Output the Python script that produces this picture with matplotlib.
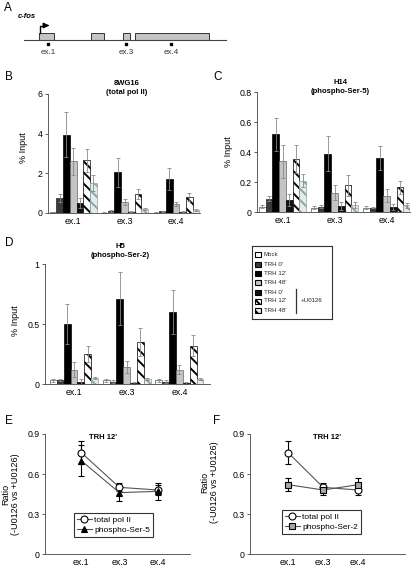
import numpy as np
import matplotlib
matplotlib.use('Agg')
import matplotlib.pyplot as plt
from matplotlib.patches import Rectangle
from matplotlib.lines import Line2D

plt.rcParams['font.family'] = ['Liberation Sans', 'DejaVu Sans']
plt.rcParams['hatch.linewidth'] = 1.4

W, H = 416, 567

exons = ['ex.1', 'ex.3', 'ex.4']
conditions = ['Mock', "TRH 0'", "TRH 12'", "TRH 48'", "TRH 0'", "TRH 12'", "TRH 48'"]

# rows = conditions, columns = exons
pol2_mean = [[0.03, 0.02, 0.02], [0.75, 0.10, 0.08], [3.95, 2.05, 1.70], [2.62, 0.55, 0.45],
             [0.50, 0.07, 0.06], [2.67, 0.95, 0.80], [1.50, 0.20, 0.15]]
pol2_err = [[0.01, 0.01, 0.01], [0.20, 0.04, 0.03], [1.15, 0.72, 0.55], [0.68, 0.15, 0.10],
            [0.25, 0.02, 0.02], [0.58, 0.25, 0.20], [0.40, 0.05, 0.05]]

ser5_mean = [[0.035, 0.030, 0.030], [0.090, 0.035, 0.030], [0.52, 0.39, 0.36], [0.34, 0.13, 0.11],
             [0.080, 0.040, 0.035], [0.355, 0.18, 0.165], [0.21, 0.045, 0.045]]
ser5_err = [[0.010, 0.010, 0.010], [0.015, 0.010, 0.005], [0.11, 0.115, 0.08], [0.11, 0.05, 0.045],
            [0.040, 0.025, 0.020], [0.095, 0.07, 0.045], [0.045, 0.02, 0.015]]

ser2_mean = [[0.03, 0.03, 0.03], [0.035, 0.02, 0.02], [0.50, 0.71, 0.60], [0.12, 0.14, 0.12],
             [0.02, 0.01, 0.01], [0.25, 0.35, 0.32], [0.05, 0.04, 0.04]]
ser2_err = [[0.01, 0.01, 0.01], [0.01, 0.01, 0.01], [0.17, 0.22, 0.18], [0.06, 0.05, 0.04],
            [0.02, 0.01, 0.01], [0.07, 0.12, 0.09], [0.01, 0.01, 0.01]]

# ratio -U0126 / +U0126 at TRH 12'
ratio_pol2 = [0.76, 0.50, 0.48]
ratio_pol2_err = [0.085, 0.03, 0.04]
ratio_ser5 = [0.70, 0.46, 0.47]
ratio_ser5_err = [0.115, 0.06, 0.065]
ratio_ser2 = [0.52, 0.48, 0.52]
ratio_ser2_err = [0.05, 0.04, 0.05]

# gene map (pixel units of panel A)
exon_boxes = [(39, 54), (91, 104), (123, 130), (135, 209)]
probe_x = [48, 126, 171]

face = ['white', '#3a3a3a', 'black', '#c4c4c4', '#111111', 'white', '#e2ecec']
edge = ['#555555', '#222222', 'black', '#666666', 'black', 'black', '#8fa3a3']
hatch = [None, None, None, None, None, '\\\\\\', '\\\\\\']


def fr(x0, y0, x1, y1):
    return [x0 / W, 1 - y1 / H, (x1 - x0) / W, (y1 - y0) / H]


def style(ax):
    for s in ['top', 'right']:
        ax.spines[s].set_visible(False)
    for s in ['left', 'bottom']:
        ax.spines[s].set_linewidth(0.6)
        ax.spines[s].set_color('#444444')
    ax.tick_params(axis='y', length=2, width=0.6, labelsize=6.3, pad=2, color='#444444')
    ax.tick_params(axis='x', length=0, labelsize=6.3, pad=3)


fig = plt.figure(figsize=(W / 100, H / 100), dpi=100)


def bar_panel(rect, means, errs, ymax, yticks, yticklabels, xlim, ylab_xy):
    ax = fig.add_axes(rect)
    x = np.arange(len(exons))
    w = 0.13
    for i in range(len(conditions)):
        ax.bar(x + (i - 3) * w, means[i], w, yerr=errs[i], color=face[i], edgecolor=edge[i],
               hatch=hatch[i], linewidth=0.5,
               error_kw=dict(ecolor='#888888', elinewidth=0.6, capsize=1.2, capthick=0.6))
    ax.set_xlim(*xlim)
    ax.set_ylim(0, ymax)
    ax.set_yticks(yticks)
    ax.set_yticklabels(yticklabels)
    ax.set_xticks(x)
    ax.set_xticklabels(exons)
    ax.set_ylabel('% Input', fontsize=6.5)
    ax.yaxis.set_label_coords(*ylab_xy)
    style(ax)
    return ax


# ---- A: gene map
axA = fig.add_axes(fr(0, 0, 260, 70))
axA.set_xlim(0, 260)
axA.set_ylim(70, 0)
axA.axis('off')
axA.plot([24, 226], [40, 40], color='#444444', lw=0.8)
for x0, x1 in exon_boxes:
    axA.add_patch(Rectangle((x0, 32.5), x1 - x0, 7.5, facecolor='#c4c4c4', edgecolor='#333333', lw=0.7))
axA.plot([39.5, 39.5, 45], [32.5, 25.5, 25.5], color='black', lw=1.0)
axA.annotate('', xy=(52, 25.5), xytext=(44, 25.5),
             arrowprops=dict(arrowstyle='-|>', color='black', lw=1.0, mutation_scale=8))
axA.text(18, 17, 'c-fos', fontsize=5.5, fontweight='bold', style='italic', va='center')
for px, lab in zip(probe_x, exons):
    axA.plot(px, 44, 's', color='black', ms=1.6)
    axA.text(px, 52, lab, fontsize=5.8, ha='center', va='center', color='#333333')

# ---- B, C, D
axB = bar_panel(fr(48, 94, 200, 213), pol2_mean, pol2_err, 6, [0, 2, 4, 6], ['0', '2', '4', '6'],
                (-0.49, 2.47), (-0.132, 0.55))
axC = bar_panel(fr(257, 92, 410, 212), ser5_mean, ser5_err, 0.8, [0, 0.2, 0.4, 0.6, 0.8],
                ['0', '0.2', '0.4', '0.6', '0.8'], (-0.49, 2.45), (-0.157, 0.5))
axD = bar_panel(fr(45, 264, 210, 384), ser2_mean, ser2_err, 1.0, [0, 0.5, 1], ['0', '0.5', '1'],
                (-0.55, 2.58), (-0.15, 0.53))

fig.text(127 / W, 1 - 88 / H, '8WG16\n(total pol II)', fontsize=5.5, fontweight='bold',
         ha='center', va='center', linespacing=1.3)
fig.text(340 / W, 1 - 87 / H, 'H14\n(phospho-Ser-5)', fontsize=5.5, fontweight='bold',
         ha='center', va='center', linespacing=1.3)
fig.text(120 / W, 1 - 251 / H, 'H5\n(phospho-Ser-2)', fontsize=5.5, fontweight='bold',
         ha='center', va='center', linespacing=1.3)

# ---- legend for bar panels
axL = fig.add_axes(fr(252, 246, 332, 319))
axL.set_xlim(0, 80)
axL.set_ylim(73, 0)
axL.set_xticks([])
axL.set_yticks([])
for s in axL.spines.values():
    s.set_linewidth(0.8)
    s.set_color('#333333')
ly = [8, 18, 27, 36, 46, 55, 64]
for i, lab in enumerate(conditions):
    axL.add_patch(Rectangle((3.5, ly[i] - 2.5), 5, 5, facecolor=face[i], edgecolor='black',
                            lw=0.8, hatch=hatch[i]))
    axL.text(12, ly[i], lab, fontsize=4.4, va='center', color='#222222')
axL.plot([44, 44], [43, 67], color='#333333', lw=0.9)
axL.text(49, 55, '+U0126', fontsize=4.4, va='center', color='#222222')


# ---- E, F: ratios
def ratio_panel(rect, series, xlim, ylab_xy, title_xy, leg_xy):
    ax = fig.add_axes(rect)
    x = np.arange(len(exons))
    for vals, errs, mk, mfc, lab in series:
        ax.errorbar(x, vals, yerr=errs, color='#555555', lw=0.8, marker=mk, ms=5, mfc=mfc,
                    mec='black', mew=0.8, ecolor='black', elinewidth=0.8, capsize=2.5,
                    capthick=0.8, label=lab)
    ax.set_xlim(*xlim)
    ax.set_ylim(0, 0.9)
    ax.set_yticks([0, 0.3, 0.6, 0.9])
    ax.set_yticklabels(['0', '0.3', '0.6', '0.9'])
    ax.set_xticks(x)
    ax.set_xticklabels(exons)
    ax.set_ylabel('Ratio\n(-U0126 vs +U0126)', fontsize=6.5, linespacing=1.05)
    ax.yaxis.set_label_coords(*ylab_xy)
    ax.text(*title_xy, "TRH 12'", transform=ax.transAxes, fontsize=5.5, fontweight='bold',
            ha='center', va='center')
    style(ax)
    h, l = ax.get_legend_handles_labels()
    h = [Line2D([], [], color='#555555', lw=0.8, marker=hh[0].get_marker(), ms=5,
                mfc=hh[0].get_markerfacecolor(), mec='black', mew=0.8) for hh in h]
    leg = ax.legend(h, l, loc='upper left', bbox_to_anchor=leg_xy, fontsize=6, frameon=True,
                    fancybox=False, edgecolor='black', handlelength=1.8, handletextpad=0.3,
                    borderpad=0.35, labelspacing=0.25, borderaxespad=0)
    leg.get_frame().set_linewidth(0.8)
    return ax


axE = ratio_panel(fr(45, 434, 190, 554),
                  [(ratio_pol2, ratio_pol2_err, 'o', 'white', 'total pol II'),
                   (ratio_ser5, ratio_ser5_err, '^', 'black', 'phospho-Ser-5')],
                  (-0.95, 2.85), (-0.175, 0.5), (0.4, 0.97), (0.2, 0.34))
axF = ratio_panel(fr(250, 434, 405, 554),
                  [(ratio_pol2, ratio_pol2_err, 'o', 'white', 'total pol II'),
                   (ratio_ser2, ratio_ser2_err, 's', '#a8a8a8', 'phospho-Ser-2')],
                  (-1.09, 3.34), (-0.2, 0.6), (0.5, 0.97), (0.206, 0.367))

for lab, x, y in [('A', 4, 8), ('B', 5, 77), ('C', 213, 77), ('D', 5, 243), ('E', 5, 421), ('F', 213, 421)]:
    fig.text(x / W, 1 - y / H, lab, fontsize=8.5, ha='left', va='center')

fig.savefig('out.png', dpi=100)
